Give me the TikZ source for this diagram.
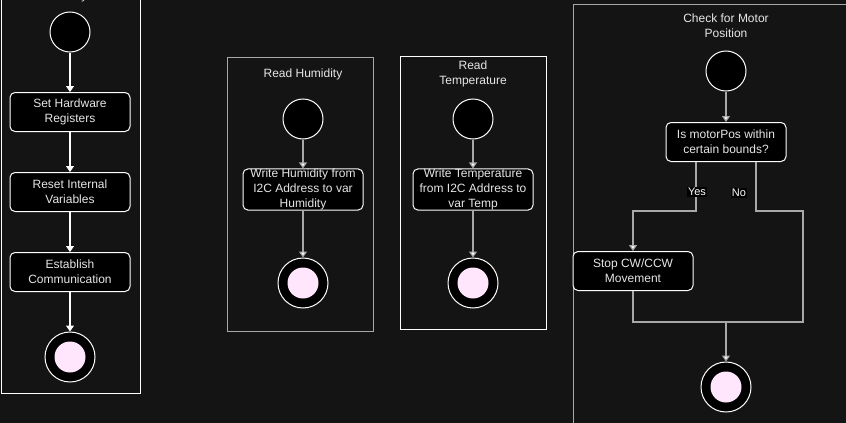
\documentclass[tikz,border=0pt]{standalone}
\usepackage{fontspec}
\setmainfont{Liberation Sans}
\usetikzlibrary{arrows.meta}
\definecolor{bg}{HTML}{141414}
\definecolor{txt}{HTML}{E6E6E6}
\definecolor{grayline}{HTML}{A8A8A8}
\definecolor{pinkfill}{HTML}{FFE6FD}
\begin{document}
\begin{tikzpicture}[x=1pt,y=-1pt,
  every node/.style={font=\fontsize{12}{15}\selectfont, text=txt},
  frame/.style={draw=#1, line width=1pt},
  actbox/.style={draw=white, fill=black, rounded corners=5pt, line width=1pt, minimum width=120pt, minimum height=39pt, align=center, inner sep=0pt},
  startc/.style={circle, draw=white, fill=black, line width=1pt, minimum size=40pt, inner sep=0pt},
  endc/.style={circle, draw=#1, fill=black, line width=1pt, minimum size=50pt, inner sep=0pt,
     path picture={\fill[pinkfill] (path picture bounding box.center) circle (15.5pt);}},
  flow/.style={draw=#1, line width=1.2pt, -{Triangle[width=8pt,length=6pt,fill=white]}},
  plain/.style={draw=#1, line width=1.2pt},
  lab/.style={fill=black, text=white, inner sep=1pt, font=\fontsize{11}{13}\selectfont}
]
\useasboundingbox (0,0) rectangle (846,423);
\fill[bg] (0,0) rectangle (846,423);
\clip (0,0) rectangle (846,423);

% ---------- Initialize System ----------
\draw[frame=white] (1,-20) rectangle (140,393);
\node (t1) at (70,-4) {Initialize System};
\node[startc] (s1) at (70,32) {};
\node[actbox] (b1) at (70,112) {Set Hardware\\Registers};
\node[actbox] (b2) at (70,192) {Reset Internal\\Variables};
\node[actbox] (b3) at (70,272) {Establish\\Communication};
\node[endc=white] (e1) at (70,357) {};
\draw[flow=white] (s1) -- (b1);
\draw[flow=white] (b1) -- (b2);
\draw[flow=white] (b2) -- (b3);
\draw[flow=white] (b3) -- (e1);

% ---------- Read Humidity ----------
\draw[frame=grayline] (227,57) rectangle (373,331);
\node (t2) at (303,74) {Read Humidity};
\node[startc] (s2) at (303,119) {};
\node[actbox] (b4) at (303,189.5) {Write Humidity from\\I2C Address to var\\Humidity};
\node[endc=white] (e2) at (303,283) {};
\draw[flow=grayline] (s2) -- (b4);
\draw[flow=grayline] (b4) -- (e2);

% ---------- Read Temperature ----------
\draw[frame=white] (400,56) rectangle (546,329);
\node[align=center] (t3) at (473,74) {Read\\Temperature};
\node[startc] (s3) at (473,119) {};
\node[actbox] (b5) at (473,189.5) {Write Temperature\\from I2C Address to\\var Temp};
\node[endc=white] (e3) at (473,283) {};
\draw[flow=grayline] (s3) -- (b5);
\draw[flow=grayline] (b5) -- (e3);

% ---------- Check for Motor Position ----------
\draw[frame=grayline] (573,4.5) rectangle (860,440);
\node[align=center] (t4) at (726,26) {Check for Motor\\Position};
\node[startc] (s4) at (726,71) {};
\node[actbox] (d1) at (726,142) {Is motorPos within\\certain bounds?};
\node[actbox] (b6) at (633,271) {Stop CW/CCW\\Movement};
\node[endc=white] (e4) at (726,387) {};
\coordinate (yesA) at (696,162);
\coordinate (noA) at (756,162);
\coordinate (merge) at (726,322);
\draw[flow=grayline] (s4) -- (d1);
\draw[flow=grayline] (yesA) -- (696,211) -| (b6.north);
\draw[plain=grayline] (noA) -- (756,211) -- (803,211) |- (merge);
\draw[plain=grayline] (b6.south) |- (merge);
\draw[flow=grayline] (merge) -- (e4);
\node[lab] (ly) at (697,192) {Yes};
\node[lab] (ln) at (739,193) {No};
\end{tikzpicture}
\end{document}
